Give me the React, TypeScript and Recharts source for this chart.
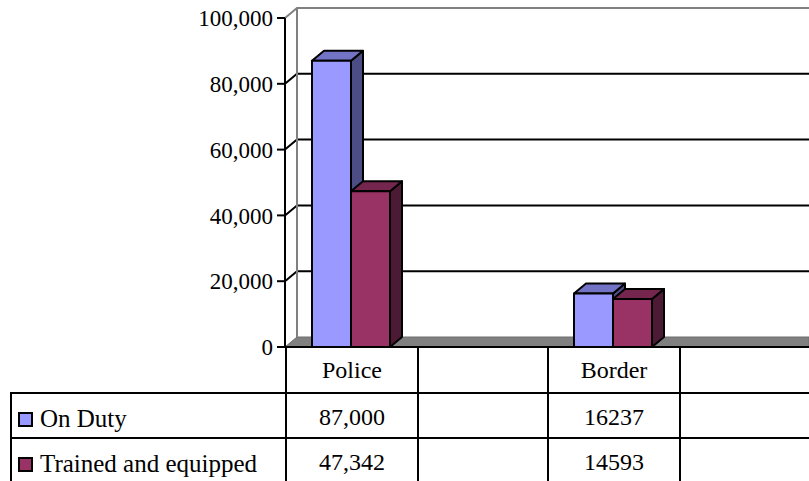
import { BarChart, Bar, XAxis, YAxis, CartesianGrid } from 'recharts';

// categories (two blank slots, as in the original data table)
const categories = ['Police', ' ', 'Border', '  '];
const onDuty = [87000, null, 16237, null];
const trained = [47342, null, 14593, null];
// table cell text, written as it appears in the source sheet
const onDutyText = ['87,000', '', '16237', ''];
const trainedText = ['47,342', '', '14593', ''];
const yTicks = [0, 20000, 40000, 60000, 80000, 100000];

const SERIES = [
  { key: 'onDuty', name: 'On Duty', front: '#9999FF', top: '#7373C6', side: '#4D4D85', text: onDutyText },
  { key: 'trained', name: 'Trained and equipped', front: '#993366', top: '#74264F', side: '#4D1A35', text: trainedText },
];

const W = 809;
const H = 481;
const M_TOP = 18;
const M_BOTTOM = 134;
const PLOT_TOP = M_TOP;
const PLOT_BOTTOM = H - M_BOTTOM;
const AXIS_W = 285;
const DX = 12; // 3d depth
const DY = 10;
const FONT = '"Liberation Serif", "Times New Roman", serif';

const chartData = categories.map((name, i) => ({
  name,
  onDuty: onDuty[i],
  trained: trained[i],
}));

/** 3D box: front face + top + right side */
const Box3D = (props: any) => {
  const { x, y, width, height, top, side, fill } = props;
  if (!height || height <= 0) return null;
  const r = x + width;
  const b = y + height;
  return (
    <g stroke="#000" strokeWidth={2} strokeLinejoin="round">
      <polygon points={`${r},${y} ${r + DX},${y - DY} ${r + DX},${b - DY} ${r},${b}`} fill={side} />
      <polygon points={`${x},${y} ${x + DX},${y - DY} ${r + DX},${y - DY} ${r},${y}`} fill={top} />
      <rect x={x} y={y} width={width} height={height} fill={fill} />
    </g>
  );
};

/** gridlines on the back wall, joined to the front axis by a short diagonal */
const GridLine3D = (p: any) => {
  const { x1, x2, y1 } = p;
  const y = y1;
  if (Math.abs(y - PLOT_BOTTOM) < 1) {
    // floor
    return (
      <polygon
        points={`${x1},${y} ${x1 + DX},${y - DY} ${x2},${y - DY} ${x2},${y}`}
        fill="#808080"
        stroke="#6e6e6e"
        strokeWidth={1}
      />
    );
  }
  if (Math.abs(y - PLOT_TOP) < 1) {
    // top and left edge of the wall
    return (
      <g stroke="#808080" strokeWidth={2} fill="none">
        <polyline points={`${x1},${y} ${x1 + DX},${y - DY} ${x2},${y - DY}`} />
        <line x1={x1 + DX} y1={y - DY} x2={x1 + DX} y2={PLOT_BOTTOM - DY} />
      </g>
    );
  }
  return (
    <polyline
      points={`${x1},${y} ${x1 + DX},${y - DY} ${x2},${y - DY}`}
      stroke="#000"
      strokeWidth={2}
      fill="none"
    />
  );
};

const cellBorder = '2px solid #000';

export default function App() {
  return (
    <div
      style={{
        position: 'absolute',
        left: 0,
        top: 0,
        width: W,
        height: H,
        background: '#fff',
        overflow: 'hidden',
        fontFamily: FONT,
      }}
    >
      <BarChart
        width={W}
        height={H}
        data={chartData}
        margin={{ top: M_TOP, right: 0, bottom: M_BOTTOM, left: 0 }}
        barGap={0}
        barCategoryGap={27}
      >
        <CartesianGrid vertical={false} horizontal={GridLine3D} />
        <XAxis dataKey="name" hide />
        <YAxis
          width={AXIS_W}
          domain={[0, 100000]}
          ticks={yTicks}
          interval={0}
          tickFormatter={(v: number) => v.toLocaleString('en-US')}
          axisLine={{ stroke: '#000', strokeWidth: 2 }}
          tickLine={{ stroke: '#000', strokeWidth: 2 }}
          tickSize={8}
          tickMargin={4}
          tick={{ fontSize: 23, fill: '#000', fontFamily: FONT }}
        />
        {SERIES.map((s) => (
          <Bar
            key={s.key}
            dataKey={s.key}
            name={s.name}
            fill={s.front}
            isAnimationActive={false}
            shape={(p: any) => <Box3D {...p} fill={s.front} top={s.top} side={s.side} />}
          />
        ))}
      </BarChart>

      {/* data table under the plot */}
      <table
        style={{
          position: 'absolute',
          left: 10,
          top: PLOT_BOTTOM - 1,
          borderCollapse: 'collapse',
          tableLayout: 'fixed',
          width: 800,
          fontSize: 24,
          fontFamily: FONT,
          color: '#000',
        }}
      >
        <colgroup>
          <col style={{ width: 275 }} />
          <col style={{ width: 132 }} />
          <col style={{ width: 130 }} />
          <col style={{ width: 132 }} />
          <col style={{ width: 131 }} />
        </colgroup>
        <tbody>
          <tr style={{ height: 46 }}>
            <td style={{ borderBottom: cellBorder, padding: 0 }} />
            {categories.map((c, i) => (
              <td key={i} style={{ border: cellBorder, textAlign: 'center', padding: 0 }}>
                {c}
              </td>
            ))}
          </tr>
          {SERIES.map((s) => (
            <tr key={s.key} style={{ height: 45 }}>
              <td
                style={{
                  border: cellBorder,
                  padding: '7px 0 0 6px',
                  whiteSpace: 'nowrap',
                  fontSize: 25,
                }}
              >
                <span
                  style={{
                    display: 'inline-block',
                    width: 11,
                    height: 11,
                    background: s.front,
                    border: '2px solid #000',
                    marginRight: 7,
                  }}
                />
                {s.name}
              </td>
              {s.text.map((t, i) => (
                <td key={i} style={{ border: cellBorder, textAlign: 'center', padding: '3px 0 0 0' }}>
                  {t}
                </td>
              ))}
            </tr>
          ))}
        </tbody>
      </table>
    </div>
  );
}
